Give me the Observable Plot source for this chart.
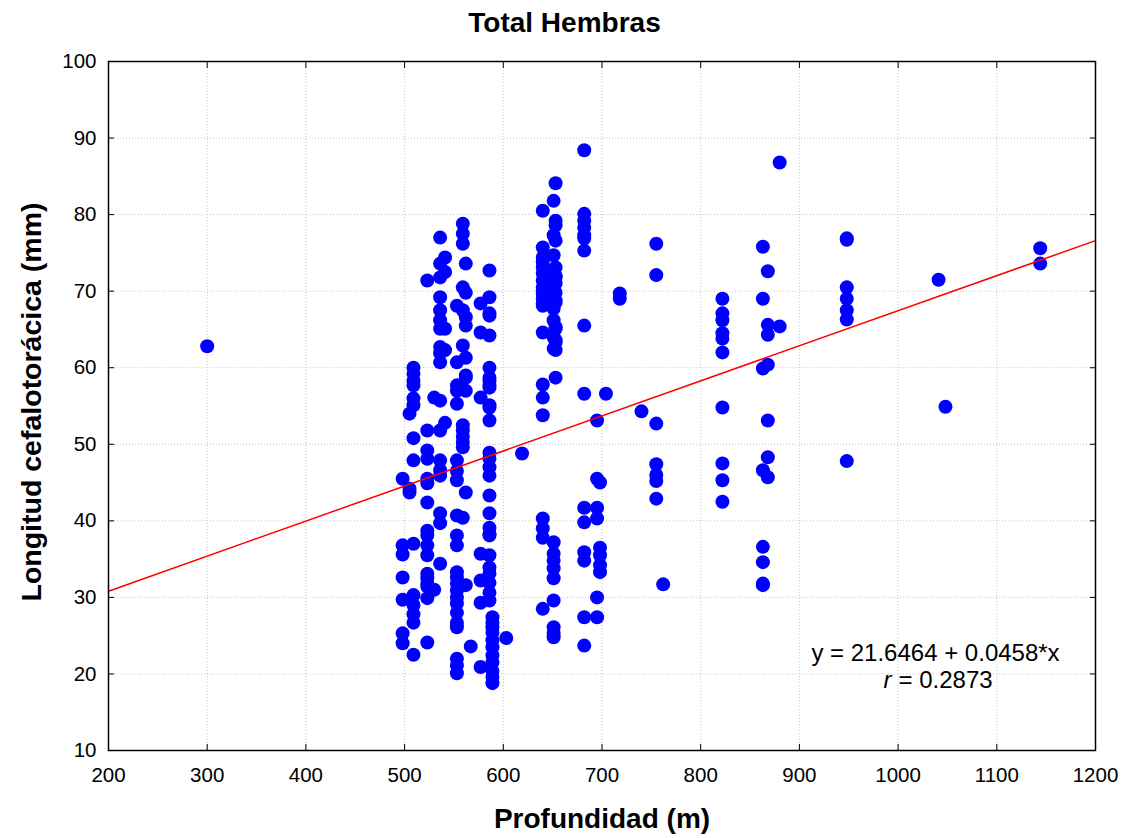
<!DOCTYPE html>
<html>
<head>
<meta charset="utf-8">
<script src="https://cdn.jsdelivr.net/npm/d3@7"></script>
<script src="https://cdn.jsdelivr.net/npm/@observablehq/plot@0.6"></script>
<style>
  body { margin: 0; background: #fff; font-family: "Liberation Sans", Arial, sans-serif; }
  #title { width: 1129px; height: 44px; line-height: 46px; text-align: center; font-weight: bold; font-size: 28px; color: #000; }
  #chart svg { display: block; }
</style>
</head>
<body>
<div id="title">Total Hembras</div>
<div id="chart"></div>
<script>
// Profundidad (m) of each sampling station
const profundidad = [300, 498, 505, 509, 523, 530, 536, 541, 553, 559, 562, 567, 577, 586, 589, 603, 619,
  640, 651, 653, 682, 695, 698, 704, 718, 740, 755, 762, 822, 863, 868, 880, 948, 1041, 1048, 1144];

// Longitud cefalotorácica (mm) of the females at each station (same order as profundidad)
const longitud = [
  [62.8],
  [45.5, 36.8, 35.6, 32.6, 29.7, 25.3, 24.0],
  [54.0, 44.2, 43.7],
  [60.0, 59.2, 58.3, 57.7, 56.0, 55.1, 50.8, 47.9, 37.0, 30.3, 29.0, 27.8, 26.7, 22.5],
  [71.4, 51.8, 49.2, 48.1, 45.5, 44.9, 42.4, 38.7, 38.1, 36.8, 35.5, 33.1, 32.5, 31.8, 31.4, 29.9, 24.1],
  [56.1, 31.0],
  [77.0, 73.6, 71.8, 69.2, 67.5, 66.2, 65.1, 62.7, 61.9, 60.7, 55.7, 51.8, 47.9, 46.6, 45.9, 41.0, 39.7, 34.4],
  [74.4, 72.5, 65.1, 62.3, 52.8],
  [68.1, 60.7, 57.7, 57.0, 55.3, 47.9, 46.5, 45.3, 40.7, 38.1, 36.8, 33.3, 32.6, 31.8, 30.9, 30.0, 29.2, 28.0, 26.7, 26.1, 22.0, 21.1, 20.1],
  [78.8, 77.5, 76.2, 70.5, 67.5, 62.9, 52.5, 51.8, 51.0, 50.3, 49.6, 40.4],
  [73.6, 69.8, 66.6, 65.5, 61.3, 59.0, 58.7, 57.0, 43.7, 31.6],
  [23.6],
  [68.4, 64.6, 56.1, 35.7, 32.2, 29.3, 20.9],
  [72.7, 69.2, 67.1, 66.8, 64.2, 60.0, 58.7, 58.3, 57.7, 57.4, 55.1, 54.8, 53.1, 48.9, 48.1, 47.0, 45.9, 43.3, 41.0, 39.1, 38.3, 38.1, 35.5, 33.9, 33.1, 31.9, 30.6, 29.6],
  [27.4, 26.7, 26.1, 25.4, 24.4, 23.5, 22.4, 21.5, 20.4, 19.6, 18.8],
  [24.7],
  [48.8],
  [80.5, 75.7, 74.4, 73.8, 73.1, 72.3, 71.4, 70.5, 70.1, 69.7, 69.0, 68.4, 68.1, 64.6, 57.8, 56.1, 53.8, 40.3, 39.0, 37.8, 28.5],
  [81.8, 77.3, 74.7, 72.7, 70.8, 69.2, 67.7, 66.2, 64.0, 62.5, 37.2, 35.7, 34.8, 33.8, 32.5, 29.6, 26.1, 25.3, 24.8],
  [84.1, 79.2, 78.6, 76.6, 73.1, 72.0, 71.8, 71.0, 69.8, 68.8, 68.5, 65.3, 65.1, 63.6, 63.3, 62.3, 58.7],
  [88.4, 80.1, 79.2, 78.3, 77.3, 76.9, 75.3, 65.5, 56.6, 41.7, 39.8, 35.9, 34.8, 27.4, 23.7],
  [53.1, 45.5, 41.7, 40.3, 30.0, 27.4],
  [45.0, 36.5, 35.5, 34.2, 33.3],
  [56.6],
  [69.7, 69.0],
  [54.3],
  [76.2, 72.1, 52.7, 47.4, 46.0, 45.2, 42.9],
  [31.7],
  [69.0, 67.1, 66.2, 64.5, 63.8, 62.0, 54.8, 47.5, 45.3, 42.5],
  [75.8, 69.0, 59.9, 46.6, 36.6, 34.6, 31.8, 31.6],
  [72.6, 65.6, 64.3, 60.4, 53.1, 48.3, 45.7],
  [86.8, 65.4],
  [76.9, 76.7, 70.5, 69.0, 67.5, 66.3, 47.8],
  [71.5],
  [54.9],
  [75.6, 73.6]
];

// Axis ticks
const xTicks = [200, 300, 400, 500, 600, 700, 800, 900, 1000, 1100, 1200];
const yTicks = [10, 20, 30, 40, 50, 60, 70, 80, 90, 100];

// Regression reported on the chart
const intercept = 21.6464;
const slope = 0.0458;
const rValue = "0.2873";

const xLabel = "Profundidad (m)";
const yLabel = "Longitud cefalotorácica (mm)";
const eqLabel = `y = ${intercept} + ${slope}*x`;

const points = profundidad.flatMap((x, i) => longitud[i].map(y => ({x, y})));
const fit = d3.extent(xTicks).map(x => ({x, y: intercept + slope * x}));

const gridStyle = {stroke: "#c4c4c4", strokeOpacity: 1, strokeWidth: 1, strokeDasharray: "1,2"};
const plain = d => String(d);

const chart = Plot.plot({
  width: 1129,
  height: 794,
  marginTop: 17,
  marginLeft: 108,
  marginRight: 34,
  marginBottom: 88,
  style: {fontFamily: "'Liberation Sans', Arial, sans-serif", fontSize: "20px", color: "#000", background: "#fff"},
  x: {domain: d3.extent(xTicks), ticks: xTicks, label: null},
  y: {domain: d3.extent(yTicks), ticks: yTicks, label: null},
  marks: [
    Plot.gridX(xTicks, gridStyle),
    Plot.gridY(yTicks, gridStyle),
    Plot.dot(points, {x: "x", y: "y", r: 7, fill: "#0000ff", stroke: null}),
    Plot.line(fit, {x: "x", y: "y", stroke: "#ff0000", strokeWidth: 1.5}),
    Plot.frame({stroke: "#000", strokeWidth: 1.5}),
    Plot.axisX(xTicks, {anchor: "bottom", tickSize: 6, dy: -6, tickPadding: 17, fontSize: 20.5, tickFormat: plain, label: null}),
    Plot.axisX(xTicks, {anchor: "top", tickSize: 6, dy: 6, fill: "none", label: null}),
    Plot.axisY(yTicks, {anchor: "left", tickSize: 6, dx: 6, tickPadding: 12, fontSize: 20.5, tickFormat: plain, label: null}),
    Plot.axisY(yTicks, {anchor: "right", tickSize: 6, dx: -6, fill: "none", label: null}),
    Plot.text([yLabel], {frameAnchor: "left", rotate: -90, dx: -77, dy: -4, fontSize: 28.5, fontWeight: "bold", textAnchor: "middle"}),
    Plot.text([xLabel], {frameAnchor: "bottom", dy: 77, fontSize: 28, fontWeight: "bold", textAnchor: "middle"}),
    Plot.text([eqLabel], {frameAnchor: "bottom-right", dx: -160, dy: -90, fontSize: 24, textAnchor: "middle"}),
    Plot.text(["r"], {frameAnchor: "bottom-right", dx: -204, dy: -63, fontSize: 24, fontStyle: "italic", textAnchor: "end"}),
    Plot.text([`= ${rValue}`], {frameAnchor: "bottom-right", dx: -197, dy: -63, fontSize: 24, textAnchor: "start"})
  ]
});
document.getElementById("chart").appendChild(chart);
</script>
</body>
</html>
